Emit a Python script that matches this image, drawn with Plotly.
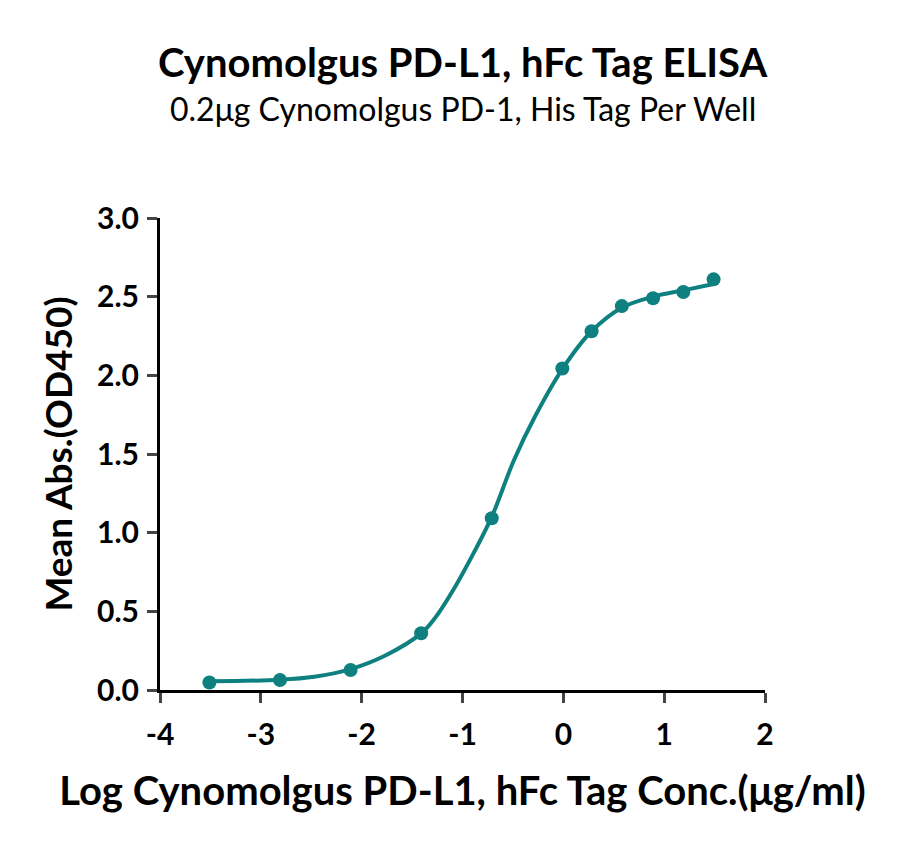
import plotly.graph_objects as go

# measured points (log conc. vs mean OD450)
log_conc = [-3.51, -2.81, -2.11, -1.41, -0.71, -0.01, 0.28, 0.58, 0.89, 1.19, 1.49]
mean_abs = [0.048, 0.064, 0.127, 0.361, 1.092, 2.043, 2.28, 2.44, 2.49, 2.53, 2.61]

# fitted curve
fit_x = [-3.51, -2.81, -2.47, -2.11, -1.77, -1.41, -1.27, -1.07, -0.89, -0.71, -0.49,
         -0.28, -0.01, 0.28, 0.58, 0.89, 1.19, 1.49]
fit_y = [0.055, 0.065, 0.084, 0.133, 0.218, 0.36, 0.46, 0.66, 0.87, 1.10, 1.46,
         1.74, 2.04, 2.28, 2.43, 2.50, 2.54, 2.58]

x_ticks = [-4, -3, -2, -1, 0, 1, 2]
x_labels = ["-4", "-3", "-2", "-1", "0", "1", "2"]
y_ticks = [0, 0.5, 1, 1.5, 2, 2.5, 3]
y_labels = ["0.0", "0.5", "1.0", "1.5", "2.0", "2.5", "3.0"]

teal = "#0f8080"
font = "Source Sans Pro, Lato, Noto Sans, sans-serif"

fig = go.Figure()
fig.add_trace(go.Scatter(x=fit_x, y=fit_y, mode="lines", line=dict(color=teal, width=4, shape="spline"),
                         hoverinfo="skip", showlegend=False))
fig.add_trace(go.Scatter(x=log_conc, y=mean_abs, mode="markers", marker=dict(color=teal, size=14),
                         showlegend=False))

# page body has an 8px margin, so the plot box is shifted up/left by that
fig.update_layout(
    width=900, height=847,
    margin=dict(l=152, r=143, t=210, b=165),
    plot_bgcolor="white", paper_bgcolor="white",
    font=dict(family=font, color="black"),
    annotations=[
        dict(text="<b>Cynomolgus PD-L1, hFc Tag ELISA</b>", xref="paper", yref="paper",
             x=0.5, y=1, yshift=156, xanchor="center", yanchor="middle", showarrow=False,
             font=dict(size=40, family=font)),
        dict(text="0.2μg Cynomolgus PD-1, His Tag Per Well", xref="paper", yref="paper",
             x=0.5, y=1, yshift=110, xanchor="center", yanchor="middle", showarrow=False,
             font=dict(size=32, family=font)),
    ],
)
fig.update_xaxes(
    range=[-4, 2], tickvals=x_ticks, ticktext=x_labels, ticks="outside", ticklen=10, tickwidth=3,
    showline=True, linewidth=3, linecolor="black", showgrid=False, zeroline=False, automargin=False,
    tickfont=dict(size=30, family=font, weight="bold"), ticklabelstandoff=6,
    title=dict(text="<b>Log Cynomolgus PD-L1, hFc Tag Conc.(μg/ml)</b>", font=dict(size=40, family=font),
               standoff=27),
)
fig.update_yaxes(
    range=[0, 3], tickvals=y_ticks, ticktext=y_labels, ticks="outside", ticklen=10,
    tickwidth=3, showline=True, linewidth=3, linecolor="black", showgrid=False, zeroline=False,
    automargin=False, tickfont=dict(size=30, family=font, weight="bold"), ticklabelstandoff=2,
    title=dict(text="<b>Mean Abs.(OD450)</b>", font=dict(size=37, family=font), standoff=14),
)

fig.write_html("out.html")
